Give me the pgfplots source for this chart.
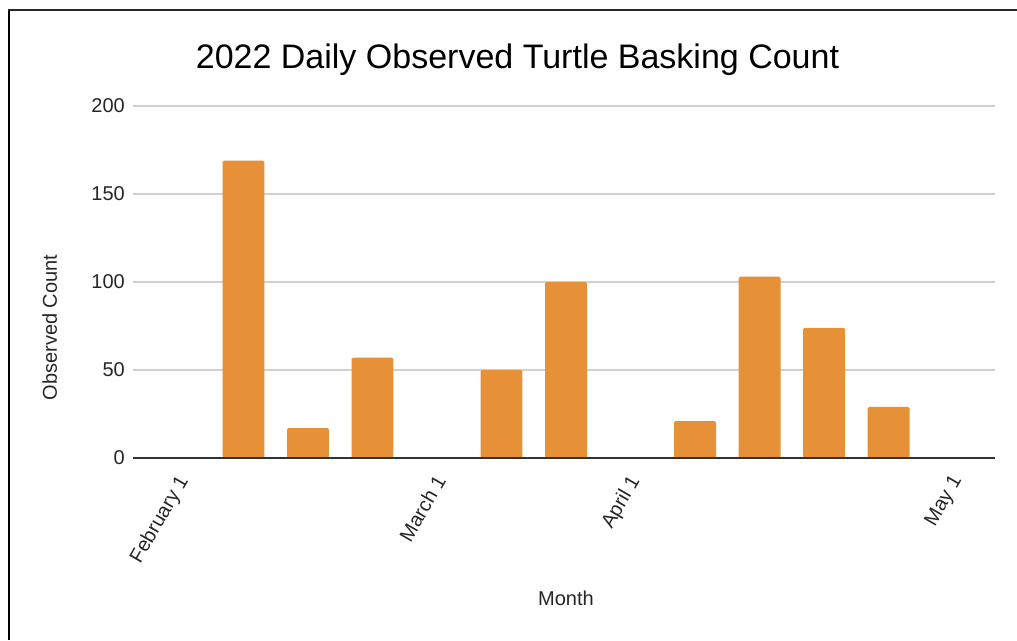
\documentclass[border=0pt]{standalone}
\usepackage{fontspec}
\setmainfont{Liberation Sans}
\usepackage{pgfplots}
\pgfplotsset{compat=1.18}
\definecolor{barorange}{HTML}{E69138}
\definecolor{gridgray}{HTML}{D0D0D0}
\definecolor{axisgray}{HTML}{333333}
\begin{document}
\begin{tikzpicture}
\path[use as bounding box] (-133pt,-182pt) rectangle (884pt,458pt);
\draw[line width=2.5pt,black] (-124pt,-182pt) -- (-124pt,448pt);
\draw[line width=1.8pt,black!85] (-125pt,448pt) -- (884pt,448pt);
\begin{axis}[
  at={(0pt,0pt)}, anchor=south west,
  scale only axis, width=862pt, height=352pt,
  xmin=-0.713, xmax=12.65, ymin=0, ymax=200,
  axis line style={draw=none},
  tick style={draw=none}, major tick length=0pt,
  ytick={0,50,100,150,200},
  ymajorgrids, grid style={color=gridgray, line width=1.2pt},
  xtick={0,4,7,12},
  xticklabels={February 1, March 1, April 1, May 1},
  yticklabel style={font=\fontsize{20}{24}\selectfont, inner sep=0pt, anchor=east, xshift=-8pt, text=black!85},
  xticklabel style={font=\fontsize{20}{24}\selectfont, inner sep=0pt, xshift=-3pt, yshift=-15pt, rotate=60, anchor=north east, text=black!85},
  /pgf/number format/assume math mode=true,
  clip=false,
]
\addplot[ybar, bar width=0.65, fill=barorange, draw=none, rounded corners=1.5pt] coordinates {
(0,0) (1,169) (2,17) (3,57) (4,0) (5,50) (6,100) (7,0) (8,21) (9,103) (10,74) (11,29) (12,0)
};
\draw[axisgray, line width=1.5pt] (rel axis cs:0,0) -- (rel axis cs:1,0);
\end{axis}
\node[anchor=base, font=\fontsize{34}{40}\selectfont, inner sep=0pt] at (384.5pt,389pt) {2022 Daily Observed Turtle Basking Count};
\node[anchor=base, rotate=90, font=\fontsize{20}{24}\selectfont, inner sep=0pt, text=black!85] at (-76pt,130.5pt) {Observed Count};
\node[anchor=base, font=\fontsize{20}{24}\selectfont, inner sep=0pt, text=black!85] at (433pt,-147pt) {Month};
\end{tikzpicture}
\end{document}
